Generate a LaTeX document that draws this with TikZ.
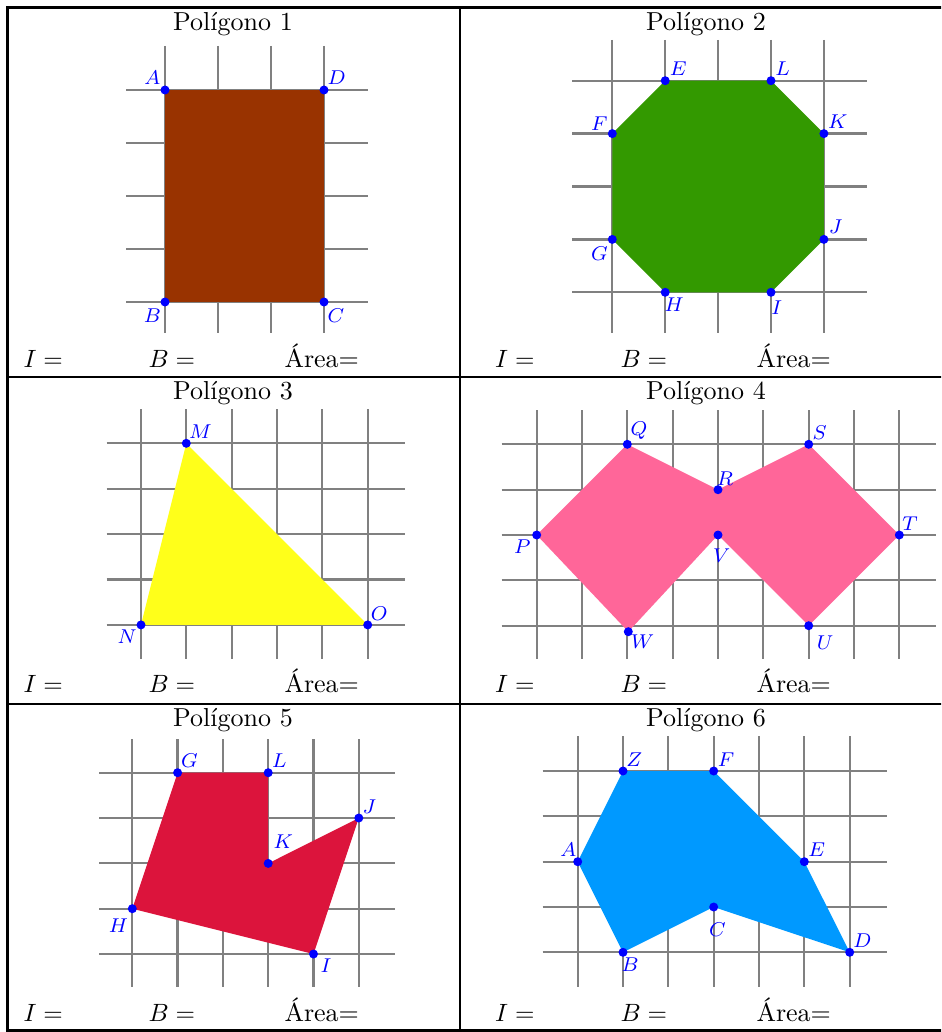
\documentclass[tikz,border=0pt]{standalone}
\usepackage{fontspec}
\definecolor{polybrown}{RGB}{153,51,0}
\definecolor{polygreen}{RGB}{51,153,0}
\definecolor{polyyellow}{RGB}{255,255,26}
\definecolor{polypink}{RGB}{255,102,153}
\definecolor{polyred}{RGB}{220,20,60}
\definecolor{polysky}{RGB}{0,153,255}
\definecolor{gridgray}{RGB}{128,128,128}
\begin{document}
\begin{tikzpicture}[x=0.4pt,y=-0.4pt,
  gridline/.style={draw=gridgray, line width=0.9pt},
  tableline/.style={draw=black, line width=1pt},
  vdot/.style={circle, fill=blue, inner sep=0pt, minimum size=3.6pt},
  vlabel/.style={inner sep=0pt, text=blue, font=\fontsize{7.6}{9}\selectfont},
  titletext/.style={inner sep=0pt, anchor=base, font=\fontsize{10.4}{12}\selectfont},
  foottext/.style={inner sep=0pt, anchor=base west, font=\fontsize{10.4}{12}\selectfont}]
\clip (0,0) rectangle (941,1032);
\fill[white] (0,0) rectangle (941,1032);

% ---------- grids ----------
% panel 1
\foreach \i in {0,...,3} \draw[gridline] ({165+53*\i},46) -- ({165+53*\i},333);
\foreach \j in {0,...,4} \draw[gridline] (126,{90+53*\j}) -- (368,{90+53*\j});
% panel 2
\foreach \i in {0,...,4} \draw[gridline] ({612.3+52.9*\i},40) -- ({612.3+52.9*\i},333);
\foreach \j in {0,...,4} \draw[gridline] (572.3,{80.7+52.9*\j}) -- (866.7,{80.7+52.9*\j});
% panel 3
\foreach \i in {0,...,5} \draw[gridline] ({141+45.33*\i},409) -- ({141+45.33*\i},659.3);
\foreach \j in {0,...,4} \draw[gridline] (106.7,{443.3+45.4*\j}) -- (404.7,{443.3+45.4*\j});
% panel 4
\foreach \i in {0,...,8} \draw[gridline] ({536.7+45.33*\i},410) -- ({536.7+45.33*\i},659.3);
\foreach \j in {0,...,4} \draw[gridline] (501.7,{444.3+45.35*\j}) -- (936,{444.3+45.35*\j});
% panel 5
\foreach \i in {0,...,5} \draw[gridline] ({132.3+45.3*\i},739) -- ({132.3+45.3*\i},987.3);
\foreach \j in {0,...,4} \draw[gridline] (99,{772.7+45.33*\j}) -- (394.7,{772.7+45.33*\j});
% panel 6
\foreach \i in {0,...,6} \draw[gridline] ({577.7+45.33*\i},736) -- ({577.7+45.33*\i},987.3);
\foreach \j in {0,...,4} \draw[gridline] (542.7,{771+45.33*\j}) -- (886.7,{771+45.33*\j});

% ---------- polygon 1 ----------
\coordinate (a1) at (165,90);
\coordinate (d1) at (324,90);
\coordinate (c1) at (324,302);
\coordinate (b1) at (165,302);
\fill[polybrown] (a1) -- (d1) -- (c1) -- (b1) -- cycle;
\foreach \p in {a1,b1,c1,d1} \node[vdot] (dot-\p) at (\p) {};
\node[vlabel] (la1) at (152.3,77.3) {$A$};
\node[vlabel] (ld1) at (336.7,77.3) {$D$};
\node[vlabel] (lb1) at (152.3,316) {$B$};
\node[vlabel] (lc1) at (336,316) {$C$};

% ---------- polygon 2 ----------
\coordinate (e2) at (665.2,80.7);
\coordinate (l2) at (771,80.7);
\coordinate (k2) at (823.9,133.6);
\coordinate (j2) at (823.9,239.4);
\coordinate (i2) at (771,292.3);
\coordinate (h2) at (665.2,292.3);
\coordinate (g2) at (612.3,239.4);
\coordinate (f2) at (612.3,133.6);
\fill[polygreen] (e2) -- (l2) -- (k2) -- (j2) -- (i2) -- (h2) -- (g2) -- (f2) -- cycle;
\foreach \p in {e2,l2,k2,j2,i2,h2,g2,f2} \node[vdot] (dot-\p) at (\p) {};
\node[vlabel] (le2) at (678.3,69) {$E$};
\node[vlabel] (ll2) at (782.7,69) {$L$};
\node[vlabel] (lf2) at (599.3,123.3) {$F$};
\node[vlabel] (lk2) at (837.7,122) {$K$};
\node[vlabel] (lj2) at (835.7,226.7) {$J$};
\node[vlabel] (lg2) at (599.3,253.3) {$G$};
\node[vlabel] (lh2) at (674,305) {$H$};
\node[vlabel] (li2) at (776.7,307.3) {$I$};

% ---------- polygon 3 ----------
\coordinate (m3) at (186.3,443.3);
\coordinate (n3) at (141,624.9);
\coordinate (o3) at (367.7,624.9);
\fill[polyyellow] (m3) -- (o3) -- (n3) -- cycle;
\foreach \p in {m3,n3,o3} \node[vdot] (dot-\p) at (\p) {};
\node[vlabel] (lm3) at (200.3,431.7) {$M$};
\node[vlabel] (ln3) at (127,636.7) {$N$};
\node[vlabel] (lo3) at (379.3,614) {$O$};

% ---------- polygon 4 ----------
\coordinate (p4) at (536.7,535);
\coordinate (q4) at (627.3,444.3);
\coordinate (r4) at (718,489.7);
\coordinate (s4) at (808.7,444.3);
\coordinate (t4) at (899.3,535);
\coordinate (u4) at (808.7,625.7);
\coordinate (v4) at (718,535);
\coordinate (w4) at (628.3,631.7);
\fill[polypink] (p4) -- (q4) -- (r4) -- (s4) -- (t4) -- (u4) -- (v4) -- (w4) -- cycle;
\foreach \p in {p4,q4,r4,s4,t4,u4,v4,w4} \node[vdot] (dot-\p) at (\p) {};
\node[vlabel] (lq4) at (639,431) {$Q$};
\node[vlabel] (ls4) at (819.7,432.3) {$S$};
\node[vlabel] (lr4) at (725,478.3) {$R$};
\node[vlabel] (lp4) at (522.3,546.7) {$P$};
\node[vlabel] (lt4) at (910,524) {$T$};
\node[vlabel] (lv4) at (721.7,555.7) {$V$};
\node[vlabel] (lw4) at (642.7,641.7) {$W$};
\node[vlabel] (lu4) at (825,642.7) {$U$};

% ---------- polygon 5 ----------
\coordinate (g5) at (177.6,772.7);
\coordinate (l5) at (268.2,772.7);
\coordinate (k5) at (268.2,863.4);
\coordinate (j5) at (358.8,818);
\coordinate (i5) at (313.5,954);
\coordinate (h5) at (132.3,908.7);
\fill[polyred] (g5) -- (l5) -- (k5) -- (j5) -- (i5) -- (h5) -- cycle;
\foreach \p in {g5,l5,k5,j5,i5,h5} \node[vdot] (dot-\p) at (\p) {};
\node[vlabel] (lg5) at (189.3,761) {$G$};
\node[vlabel] (ll5) at (279.3,761) {$L$};
\node[vlabel] (lj5) at (369.3,806.7) {$J$};
\node[vlabel] (lk5) at (283.3,841.7) {$K$};
\node[vlabel] (lh5) at (118.3,926) {$H$};
\node[vlabel] (li5) at (326,965.7) {$I$};

% ---------- polygon 6 ----------
\coordinate (z6) at (623,771);
\coordinate (f6) at (713.7,771);
\coordinate (e6) at (804.3,861.7);
\coordinate (d6) at (849.7,952.3);
\coordinate (c6) at (713.7,907);
\coordinate (b6) at (623,952.3);
\coordinate (a6) at (577.7,861.7);
\fill[polysky] (z6) -- (f6) -- (e6) -- (d6) -- (c6) -- (b6) -- (a6) -- cycle;
\foreach \p in {z6,f6,e6,d6,c6,b6,a6} \node[vdot] (dot-\p) at (\p) {};
\node[vlabel] (lz6) at (634.3,760) {$Z$};
\node[vlabel] (lf6) at (726,760) {$F$};
\node[vlabel] (le6) at (816.7,850) {$E$};
\node[vlabel] (ld6) at (862.3,940.7) {$D$};
\node[vlabel] (la6) at (568.3,850) {$A$};
\node[vlabel] (lc6) at (717.3,929.3) {$C$};
\node[vlabel] (lb6) at (630,965) {$B$};

% ---------- titles ----------
\node[titletext] (t1) at (233,31) {Polígono 1};
\node[titletext] (t2) at (706,31) {Polígono 2};
\node[titletext] (t3) at (233,399.3) {Polígono 3};
\node[titletext] (t4) at (706,399.3) {Polígono 4};
\node[titletext] (t5) at (233,726.7) {Polígono 5};
\node[titletext] (t6) at (706,726.7) {Polígono 6};

% ---------- footers ----------
\foreach \yb/\r in {367/1,692.7/2,1021.7/3}{
  \node[foottext] (fi-l\r) at (23,\yb) {$I=$};
  \node[foottext] (fb-l\r) at (148,\yb) {$B=$};
  \node[foottext] (fa-l\r) at (284,\yb) {Área=};
  \node[foottext] (fi-r\r) at (494.7,\yb) {$I=$};
  \node[foottext] (fb-r\r) at (620,\yb) {$B=$};
  \node[foottext] (fa-r\r) at (756,\yb) {Área=};
}

% ---------- table ----------
\draw[tableline] (7.5,7.5) rectangle (952,1030.5);
\draw[tableline] (7.5,377) -- (952,377);
\draw[tableline] (7.5,704) -- (952,704);
\draw[tableline] (460,7.5) -- (460,1030.5);
\end{tikzpicture}
\end{document}
